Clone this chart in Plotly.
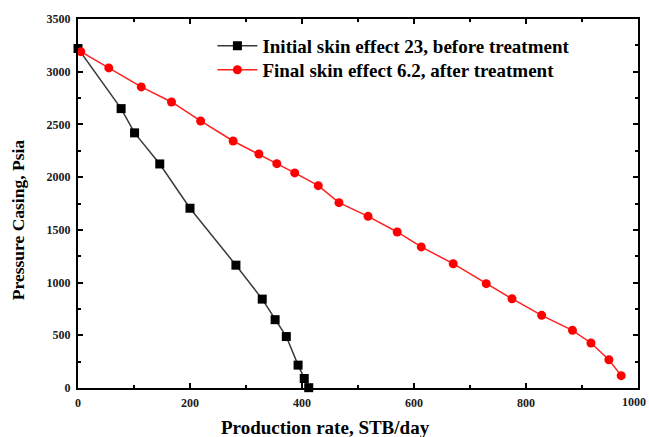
import plotly.graph_objects as go

# Production rate (STB/day) vs casing pressure (psia)
rate_before = [0, 77, 101, 146, 200, 282, 329, 352, 372, 393, 404, 412]
pres_before = [3220, 2650, 2420, 2125, 1705, 1165, 843, 648, 488, 217, 90, 3]

rate_after = [5, 55, 113, 167, 219, 277, 323, 355, 387, 429, 466, 518, 570, 613,
              670, 729, 775, 828, 883, 916, 948, 970]
pres_after = [3190, 3036, 2856, 2713, 2533, 2343, 2220, 2128, 2040, 1919, 1758,
              1628, 1480, 1338, 1179, 990, 847, 689, 547, 427, 268, 117]

x_ticks = [0, 200, 400, 600, 800, 1000]
y_ticks = [0, 500, 1000, 1500, 2000, 2500, 3000, 3500]

name_before = "Initial skin effect 23, before treatment"
name_after = "Final skin effect 6.2, after treatment"
x_title = "Production rate, STB/day"
y_title = "Pressure Casing, Psia"

serif = "Liberation Serif"
tick_font = dict(family=serif, size=12, color="#1a1a1a", weight="bold")

fig = go.Figure()
fig.add_trace(go.Scatter(
    x=rate_before, y=pres_before, name=name_before, mode="lines+markers",
    line=dict(color="#3a3a3a", width=1.5),
    marker=dict(symbol="square", size=9, color="black"),
    cliponaxis=False, legend="legend",
))
fig.add_trace(go.Scatter(
    x=rate_after, y=pres_after, name=name_after, mode="lines+markers",
    line=dict(color="#ff2020", width=1.5),
    marker=dict(symbol="circle", size=9, color="#ff0000"),
    cliponaxis=False, legend="legend2",
))

axis_common = dict(
    showline=True, linecolor="black", linewidth=2, mirror="ticks",
    ticks="inside", ticklen=5, tickwidth=1.5, tickcolor="black",
    showgrid=False, zeroline=False, automargin=False,
    tickfont=tick_font,
)

# last x label sits at the page edge, so it is written separately below
fig.update_xaxes(
    range=[0, 1000], tickvals=x_ticks,
    ticktext=[str(v) for v in x_ticks[:-1]] + [""],
    minor=dict(ticks="inside", ticklen=3, tickcolor="black", tickwidth=1.5, dtick=100, tick0=0),
    ticklabelstandoff=3,
    **axis_common,
)
fig.update_yaxes(
    range=[0, 3500], tickvals=y_ticks,
    minor=dict(ticks="inside", ticklen=3, tickcolor="black", tickwidth=1.5, dtick=250, tick0=0),
    ticklabelstandoff=3,
    **axis_common,
)

fig.add_annotation(
    text=str(x_ticks[-1]), xref="x", yref="paper", x=x_ticks[-1], y=0,
    xanchor="right", yanchor="middle", xshift=10, yshift=-14,
    showarrow=False, font=tick_font,
)

# Axis titles placed as annotations
fig.add_annotation(
    text=x_title, xref="paper", yref="paper", x=0.442, y=-0.108,
    xanchor="center", yanchor="middle", showarrow=False,
    font=dict(family=serif, size=19, color="black", weight="bold"),
)
fig.add_annotation(
    text=y_title, xref="paper", yref="paper", x=-0.107, y=0.455,
    xanchor="center", yanchor="middle", showarrow=False, textangle=-90,
    font=dict(family=serif, size=17.5, color="black", weight="bold"),
)

legend_style = dict(
    xanchor="left", yanchor="middle",
    bgcolor="rgba(0,0,0,0)", borderwidth=0,
    font=dict(family=serif, size=19, color="black", weight="bold"),
    itemwidth=40,
)

fig.update_layout(
    width=649, height=437,
    margin=dict(l=78, r=11, t=19, b=49),
    paper_bgcolor="white", plot_bgcolor="white",
    showlegend=True,
    legend=dict(x=0.24, y=0.927, **legend_style),
    legend2=dict(x=0.24, y=0.862, **legend_style),
)

fig.write_html("out.html")
